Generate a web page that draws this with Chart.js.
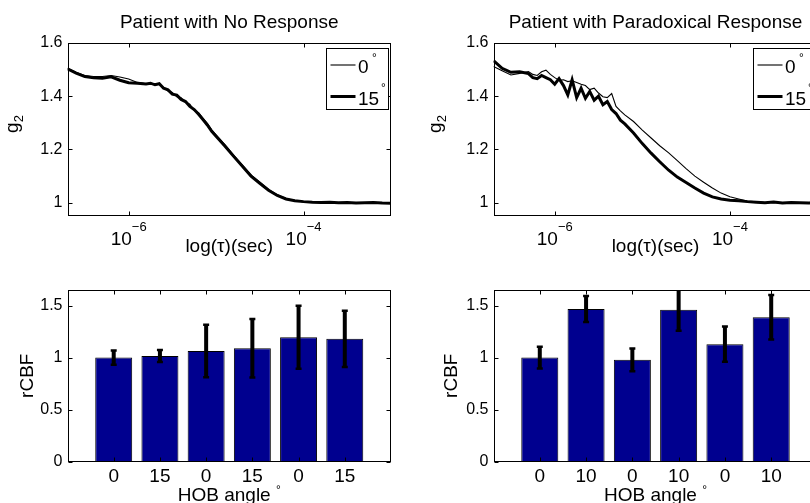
<!DOCTYPE html>
<html><head><meta charset="utf-8">
<script src="https://cdn.jsdelivr.net/npm/chart.js@4.4.1/dist/chart.umd.min.js"></script>
<style>
html,body{margin:0;padding:0;background:#fff;overflow:hidden;width:810px;height:503px;position:relative;}
canvas{position:absolute;}
</style></head><body>
<canvas id="c1" width="405" height="262" style="left:0;top:0"></canvas>
<canvas id="c2" width="425" height="262" style="left:405px;top:0"></canvas>
<canvas id="c3" width="405" height="241" style="left:0;top:262px"></canvas>
<canvas id="c4" width="425" height="241" style="left:405px;top:262px"></canvas>
<script>
// ---------------- data ----------------
const titles = ['Patient with No Response', 'Patient with Paradoxical Response'];
const legendLabels = ['0', '15'];
const xTickTau = [1e-6, 1e-4];
const xTickExp = ['\u22126', '\u22124'];
const yTicksG2 = [1, 1.2, 1.4, 1.6];
const yTicksCBF = [0, 0.5, 1, 1.5];

const tauNoResp = [2.00e-7, 2.51e-7, 3.16e-7, 3.98e-7, 5.01e-7, 6.31e-7, 7.94e-7, 1.00e-6, 1.26e-6, 1.58e-6,
  1.78e-6, 2.00e-6, 2.24e-6, 2.51e-6, 2.82e-6, 3.16e-6, 3.55e-6, 3.98e-6, 4.47e-6, 5.01e-6,
  5.62e-6, 6.31e-6, 7.08e-6, 7.94e-6, 8.91e-6, 1.00e-5, 1.26e-5, 1.58e-5, 2.00e-5, 2.51e-5,
  3.16e-5, 3.98e-5, 5.01e-5, 6.31e-5, 7.94e-5, 1.00e-4, 1.26e-4, 1.58e-4, 2.00e-4, 2.51e-4,
  3.16e-4, 3.98e-4, 5.01e-4, 6.31e-4, 7.94e-4, 1.00e-3];
const g2NoResp0 = [1.505, 1.490, 1.478, 1.474, 1.474, 1.478, 1.472, 1.465, 1.452, 1.447,
  1.445, 1.448, 1.444, 1.433, 1.420, 1.414, 1.398, 1.394, 1.377, 1.370,
  1.346, 1.338, 1.318, 1.298, 1.274, 1.255, 1.218, 1.180, 1.141, 1.104,
  1.077, 1.050, 1.030, 1.016, 1.008, 1.003, 1.001, 1.002, 1.000, 1.001,
  0.999, 1.001, 0.999, 1.000, 1.000, 0.999];
const g2NoResp15 = [1.503, 1.487, 1.474, 1.469, 1.468, 1.473, 1.460, 1.451, 1.449, 1.446,
  1.449, 1.443, 1.447, 1.430, 1.424, 1.408, 1.404, 1.388, 1.380, 1.362,
  1.350, 1.332, 1.312, 1.292, 1.268, 1.250, 1.213, 1.175, 1.137, 1.100,
  1.073, 1.047, 1.027, 1.014, 1.007, 1.004, 1.002, 1.001, 1.002, 1.000,
  1.001, 0.999, 1.000, 1.001, 0.999, 0.998];

const tauParadox = [2.00e-7, 2.51e-7, 3.16e-7, 3.98e-7, 5.01e-7, 5.62e-7, 6.31e-7, 7.08e-7, 7.94e-7, 8.91e-7,
  1.00e-6, 1.12e-6, 1.26e-6, 1.41e-6, 1.58e-6, 1.78e-6, 2.00e-6, 2.24e-6, 2.51e-6, 2.82e-6,
  3.16e-6, 3.55e-6, 3.98e-6, 4.47e-6, 5.01e-6, 5.62e-6, 6.31e-6, 7.94e-6, 1.00e-5, 1.26e-5,
  1.58e-5, 2.00e-5, 2.51e-5, 3.16e-5, 3.98e-5, 5.01e-5, 6.31e-5, 7.94e-5, 1.00e-4, 1.26e-4,
  1.58e-4, 2.00e-4, 2.51e-4, 3.16e-4, 3.98e-4, 5.01e-4, 6.31e-4, 7.94e-4, 1.00e-3];
const g2Paradox0 = [1.512, 1.496, 1.480, 1.486, 1.493, 1.482, 1.478, 1.492, 1.498, 1.482,
  1.470, 1.460, 1.462, 1.455, 1.458, 1.452, 1.445, 1.440, 1.425, 1.430,
  1.412, 1.398, 1.395, 1.410, 1.362, 1.345, 1.330, 1.305, 1.273, 1.243,
  1.214, 1.187, 1.158, 1.128, 1.100, 1.077, 1.055, 1.036, 1.022, 1.014,
  1.006, 1.003, 1.001, 1.000, 1.001, 0.999, 1.000, 1.001, 0.999];
const g2Paradox15 = [1.534, 1.505, 1.490, 1.492, 1.485, 1.470, 1.466, 1.478, 1.470, 1.462,
  1.445, 1.466, 1.440, 1.405, 1.462, 1.395, 1.430, 1.392, 1.418, 1.385,
  1.400, 1.368, 1.380, 1.350, 1.335, 1.310, 1.296, 1.262, 1.222, 1.186,
  1.154, 1.122, 1.096, 1.076, 1.055, 1.036, 1.022, 1.014, 1.009, 1.007,
  1.004, 1.002, 1.000, 1.003, 0.999, 1.001, 1.000, 0.999, 1.000];

const hobLabelsNoResp = ['0', '15', '0', '15', '0', '15'];
const hobLabelsParadox = ['0', '10', '0', '10', '0', '10'];
const rcbfNoResp = [1.00, 1.015, 1.063, 1.09, 1.195, 1.18];
const rcbfNoRespErr = [0.069, 0.058, 0.252, 0.281, 0.303, 0.27];
const rcbfParadox = [1.00, 1.468, 0.978, 1.459, 1.129, 1.388];
const rcbfParadoxErr = [0.105, 0.125, 0.11, 0.2, 0.17, 0.215];

// ---------------- drawing helpers ----------------
const FAM = "'Liberation Sans', Arial, Helvetica, sans-serif";
function f(px) { return px + 'px ' + FAM; }
function txt(ctx, s, x, y, px, align) {
  ctx.font = f(px); ctx.textAlign = align || 'center'; ctx.textBaseline = 'alphabetic';
  ctx.fillStyle = '#000'; ctx.fillText(s, x, y);
}

const deco = {
  id: 'deco',
  afterDatasetsDraw(chart, args, o) {
    if (!o.errors) return;
    const ctx = chart.ctx, a = chart.chartArea, xs = chart.scales.x, ys = chart.scales.y;
    ctx.save();
    ctx.beginPath(); ctx.rect(a.left, a.top, a.right - a.left, a.bottom - a.top); ctx.clip();
    ctx.strokeStyle = '#000';
    o.values.forEach((v, i) => {
      const x = xs.getPixelForValue(i + 1);
      const y1 = ys.getPixelForValue(v + o.errors[i]);
      const y2 = ys.getPixelForValue(v - o.errors[i]);
      ctx.lineWidth = 4; ctx.beginPath(); ctx.moveTo(x, y1); ctx.lineTo(x, y2); ctx.stroke();
      ctx.lineWidth = 2.5; ctx.beginPath();
      ctx.moveTo(x - 3, y1); ctx.lineTo(x + 3, y1); ctx.moveTo(x - 3, y2); ctx.lineTo(x + 3, y2); ctx.stroke();
    });
    ctx.restore();
  },
  afterDraw(chart, args, o) {
    const ctx = chart.ctx, a = chart.chartArea, xs = chart.scales.x, ys = chart.scales.y;
    ctx.save();
    const L = Math.round(a.left) + 0.5, R = Math.round(a.right) - 0.5;
    const T = Math.round(a.top) + 0.5, B = Math.round(a.bottom) - 0.5;
    ctx.strokeStyle = '#000'; ctx.lineWidth = 1;
    ctx.strokeRect(L, T, R - L, B - T);
    // inward ticks
    const tl = 4;
    ctx.beginPath();
    o.xTicks.forEach(v => {
      const x = Math.round(xs.getPixelForValue(v)) + 0.5;
      ctx.moveTo(x, B); ctx.lineTo(x, B - tl); ctx.moveTo(x, T); ctx.lineTo(x, T + tl);
    });
    o.yTicks.forEach(v => {
      const y = Math.round(ys.getPixelForValue(v)) + 0.5;
      ctx.moveTo(L, y); ctx.lineTo(L + tl, y); ctx.moveTo(R, y); ctx.lineTo(R - tl, y);
    });
    ctx.stroke();
    const cx = (a.left + a.right) / 2, cy = (a.top + a.bottom) / 2;
    if (o.kind === 'line') {
      txt(ctx, o.title, cx, 28, 19);
      // x tick labels 10^n
      o.xTicks.forEach((v, i) => {
        const x = xs.getPixelForValue(v);
        ctx.font = f(19); const wb = ctx.measureText('10').width;
        ctx.font = f(13); const we = ctx.measureText(xTickExp[i]).width;
        const s = x - (wb + we) / 2;
        txt(ctx, '10', s, 245, 19, 'left');
        txt(ctx, xTickExp[i], s + wb, 231, 13, 'left');
      });
      txt(ctx, 'log(\u03c4)(sec)', cx, 252, 19);
      // y label g2
      ctx.save();
      ctx.translate(o.ylabX, 124); ctx.rotate(-Math.PI / 2);
      ctx.font = f(19); const wg = ctx.measureText('g').width;
      ctx.font = f(13); const w2 = ctx.measureText('2').width;
      const s0 = -(wg + w2) / 2;
      txt(ctx, 'g', s0, 0, 19, 'left');
      txt(ctx, '2', s0 + wg, 5, 13, 'left');
      ctx.restore();
      // legend
      const bl = Math.round(a.right - 65) + 0.5, bt = Math.round(a.top + 5) + 0.5;
      const bw = 62, bh = 61;
      ctx.fillStyle = '#fff'; ctx.fillRect(bl, bt, bw, bh);
      ctx.strokeStyle = '#000'; ctx.lineWidth = 1; ctx.strokeRect(bl, bt, bw, bh);
      ctx.beginPath(); ctx.lineWidth = 1.1; ctx.moveTo(bl + 4, 65); ctx.lineTo(bl + 29, 65); ctx.stroke();
      ctx.beginPath(); ctx.lineWidth = 3; ctx.moveTo(bl + 4, 96.5); ctx.lineTo(bl + 29, 96.5); ctx.stroke();
      txt(ctx, legendLabels[0], bl + 31.5, 73, 19, 'left');
      txt(ctx, '\u00b0', bl + 48, 62, 12, 'center');
      txt(ctx, legendLabels[1], bl + 31.5, 105, 19, 'left');
      txt(ctx, '\u00b0', bl + 57, 92, 12, 'center');
    } else {
      o.xTicks.forEach((v, i) => {
        txt(ctx, o.labels[i], xs.getPixelForValue(v), 220, 19);
      });
      ctx.font = f(19); const wh = ctx.measureText('HOB angle ').width;
      ctx.font = f(12); const wd = ctx.measureText('\u00b0').width;
      const sh = cx - (wh + wd) / 2;
      txt(ctx, 'HOB angle ', sh, 239, 19, 'left');
      txt(ctx, '\u00b0', sh + wh, 232, 12, 'left');
      ctx.save();
      ctx.translate(o.ylabX, cy); ctx.rotate(-Math.PI / 2);
      txt(ctx, 'rCBF', 0, 0, 19, 'center');
      ctx.restore();
    }
    ctx.restore();
  }
};

function yAxis(min, max, ticks, left) {
  return {
    type: 'linear', min: min, max: max,
    afterFit: s => { s.width = left; },
    afterBuildTicks: s => { s.ticks = ticks.map(v => ({ value: v })); },
    ticks: { font: { family: FAM, size: 16 }, color: '#000', padding: 5, callback: v => String(v) },
    grid: { display: false, drawTicks: false },
    border: { display: false }
  };
}

function lineChart(id, tau, g0, g15, title, left, padRight, ylabX) {
  return new Chart(document.getElementById(id), {
    type: 'line',
    data: { datasets: [
      { label: legendLabels[0], data: tau.map((t, i) => ({ x: t, y: g0[i] })), borderColor: '#000', borderWidth: 1.1, pointRadius: 0, tension: 0 },
      { label: legendLabels[1], data: tau.map((t, i) => ({ x: t, y: g15[i] })), borderColor: '#000', borderWidth: 3, pointRadius: 0, tension: 0 }
    ] },
    options: {
      responsive: false, animation: false, devicePixelRatio: 1,
      layout: { padding: { left: 0, top: 43, right: padRight, bottom: 46 } },
      plugins: { legend: { display: false }, tooltip: { enabled: false },
        deco: { kind: 'line', title: title, xTicks: xTickTau, yTicks: yTicksG2, ylabX: ylabX } },
      scales: {
        x: { type: 'logarithmic', min: 2e-7, max: 1e-3, display: false },
        y: yAxis(0.95, 1.6, yTicksG2, left)
      }
    },
    plugins: [deco]
  });
}

function barChart(id, values, errs, labels, left, padRight, ylabX) {
  return new Chart(document.getElementById(id), {
    type: 'bar',
    data: { datasets: [{
      data: values.map((v, i) => ({ x: i + 1, y: v })),
      backgroundColor: '#00008F', borderColor: '#000', borderWidth: 1,
      categoryPercentage: 1, barPercentage: 0.8
    }] },
    options: {
      responsive: false, animation: false, devicePixelRatio: 1,
      layout: { padding: { left: 0, top: 28, right: padRight, bottom: 41.5 } },
      plugins: { legend: { display: false }, tooltip: { enabled: false },
        deco: { kind: 'bar', values: values, errors: errs, labels: labels, xTicks: [1, 2, 3, 4, 5, 6], yTicks: yTicksCBF, ylabX: ylabX } },
      scales: {
        x: { type: 'linear', min: 0, max: 7, offset: false, display: false },
        y: yAxis(0, 1.65, yTicksCBF, left)
      }
    },
    plugins: [deco]
  });
}

lineChart('c1', tauNoResp, g2NoResp0, g2NoResp15, titles[0], 67.5, 14, 17.5);
lineChart('c2', tauParadox, g2Paradox0, g2Paradox15, titles[1], 88.5, 12.5, 35.5);
barChart('c3', rcbfNoResp, rcbfNoRespErr, hobLabelsNoResp, 67.5, 14, 33);
barChart('c4', rcbfParadox, rcbfParadoxErr, hobLabelsParadox, 88.5, 12.5, 51.5);
</script>
</body></html>
